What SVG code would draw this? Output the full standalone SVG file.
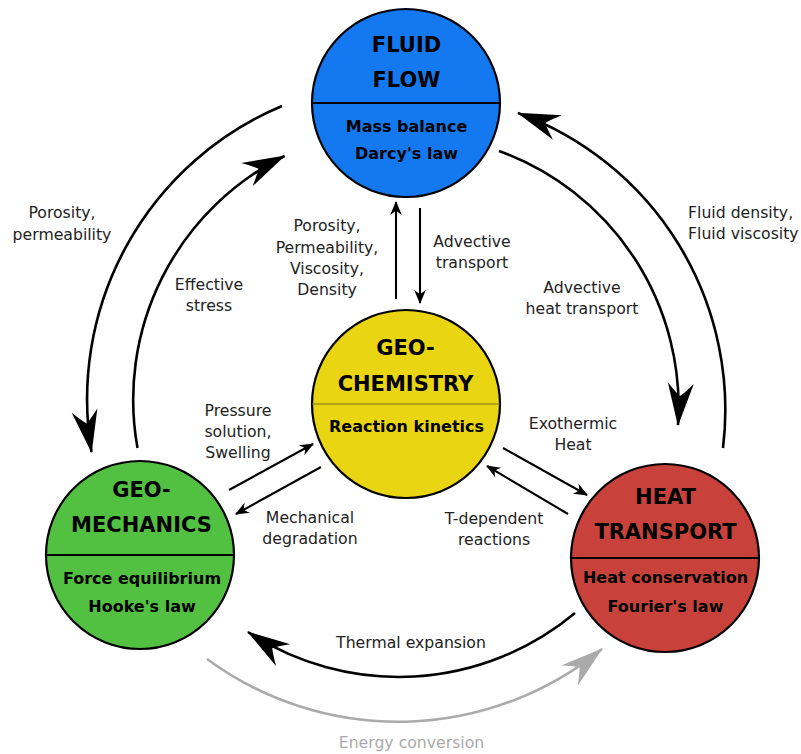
<svg xmlns="http://www.w3.org/2000/svg" width="801" height="754" viewBox="0 0 801 754">
<style>
.node circle{stroke:#000;stroke-width:2.2}
.div{stroke:#000;stroke-width:2}
.t{font-family:"DejaVu Sans",Verdana,sans-serif;font-weight:bold;fill:#000;text-anchor:middle}
.t1{font-size:21px}
.t2{font-size:16px}
.lbl{font-family:"DejaVu Sans",Verdana,sans-serif;font-size:15.7px;fill:#222;text-anchor:middle}
.arc{fill:none;stroke:#000;stroke-width:2.6;marker-end:url(#big)}
.arcg{fill:none;stroke:#aaa;stroke-width:2.6;marker-end:url(#bigg)}
.sa{fill:none;stroke:#000;stroke-width:2.1;marker-end:url(#small)}
</style>
<defs>
<marker id="big" markerUnits="userSpaceOnUse" markerWidth="60" markerHeight="40" viewBox="-50 -20 60 40" refX="0" refY="0" orient="auto" overflow="visible">
<path d="M1,0 L-42,-13 Q-32,-4 -29,0 Q-32,4 -42,13 Z" fill="#000"/>
</marker>
<marker id="bigg" markerUnits="userSpaceOnUse" markerWidth="60" markerHeight="40" viewBox="-50 -20 60 40" refX="0" refY="0" orient="auto" overflow="visible">
<path d="M1,0 L-42,-13 Q-32,-4 -29,0 Q-32,4 -42,13 Z" fill="#aaa"/>
</marker>
<marker id="small" markerUnits="userSpaceOnUse" markerWidth="20" markerHeight="16" viewBox="-16 -8 20 16" refX="0" refY="0" orient="auto" overflow="visible">
<path d="M1,0 L-13,-5.8 Q-9.5,-1.5 -9,0 Q-9.5,1.5 -13,5.8 Z" fill="#000"/>
</marker>
</defs>

<g id="connectors">
<path class="arc" d="M282,106 A318,318 0 0 0 91.5,452"/>
<path class="arc" d="M137.5,448 A272,272 0 0 1 284.5,156"/>
<path class="arc" d="M499,151 A272,272 0 0 1 678,425"/>
<path class="arc" d="M723,448 A316,316 0 0 0 518,113"/>
<path class="arc" d="M575,613 A275,275 0 0 1 248,632"/>
<path class="arcg" d="M207,659 A322,322 0 0 0 602,649"/>
<path class="sa" d="M396,299 L396,202"/>
<path class="sa" d="M420,208 L420,303"/>
<path class="sa" d="M229,490 L313,444"/>
<path class="sa" d="M321,467 L236,514"/>
<path class="sa" d="M503,448 L587,495"/>
<path class="sa" d="M568,514 L487,466"/>
</g>

<g id="fluid-flow" class="node">
<circle cx="406" cy="103" r="94" fill="#1479F0"/>
<line class="div" x1="312" y1="103" x2="500" y2="103"/>
<text class="t t1" x="406.5" y="52">FLUID</text>
<text class="t t1" x="406.5" y="87">FLOW</text>
<text class="t t2" x="406.5" y="132">Mass balance</text>
<text class="t t2" x="406.5" y="159">Darcy's law</text>
</g>

<g id="geo-chemistry" class="node">
<circle cx="406" cy="404" r="94" fill="#EAD512"/>
<line x1="312" y1="404" x2="500" y2="404" stroke="#7a7010" stroke-width="1.2"/>
<text class="t t1" x="405.5" y="355">GEO-</text>
<text class="t t1" x="405.5" y="391">CHEMISTRY</text>
<text class="t t2" x="406.5" y="432">Reaction kinetics</text>
</g>

<g id="geo-mechanics" class="node">
<circle cx="140" cy="555" r="94" fill="#52C142"/>
<line class="div" x1="46" y1="555" x2="234" y2="555"/>
<text class="t t1" x="141.5" y="497">GEO-</text>
<text class="t t1" x="141.5" y="532">MECHANICS</text>
<text class="t t2" x="142" y="584">Force equilibrium</text>
<text class="t t2" x="142" y="612">Hooke's law</text>
</g>

<g id="heat-transport" class="node">
<circle cx="665" cy="558" r="94" fill="#C8423B"/>
<line class="div" x1="571" y1="558" x2="759" y2="558"/>
<text class="t t1" x="665.5" y="504">HEAT</text>
<text class="t t1" x="665.5" y="539">TRANSPORT</text>
<text class="t t2" x="665.5" y="583">Heat conservation</text>
<text class="t t2" x="665.5" y="612">Fourier's law</text>
</g>

<g id="labels">
<text class="lbl" x="62" y="218">Porosity,</text>
<text class="lbl" x="62" y="240">permeability</text>
<text class="lbl" x="209" y="290">Effective</text>
<text class="lbl" x="209" y="311">stress</text>
<text class="lbl" x="327" y="231">Porosity,</text>
<text class="lbl" x="327" y="253">Permeability,</text>
<text class="lbl" x="327" y="274">Viscosity,</text>
<text class="lbl" x="327" y="295">Density</text>
<text class="lbl" x="472" y="247">Advective</text>
<text class="lbl" x="472" y="268">transport</text>
<text class="lbl" x="582" y="293">Advective</text>
<text class="lbl" x="582" y="314">heat transport</text>
<text class="lbl" x="688" y="218" style="text-anchor:start">Fluid density,</text>
<text class="lbl" x="688" y="239" style="text-anchor:start">Fluid viscosity</text>
<text class="lbl" x="238" y="416">Pressure</text>
<text class="lbl" x="238" y="437">solution,</text>
<text class="lbl" x="238" y="458">Swelling</text>
<text class="lbl" x="310" y="523">Mechanical</text>
<text class="lbl" x="310" y="544">degradation</text>
<text class="lbl" x="573" y="429">Exothermic</text>
<text class="lbl" x="573" y="450">Heat</text>
<text class="lbl" x="494" y="524">T-dependent</text>
<text class="lbl" x="494" y="545">reactions</text>
<text class="lbl" x="411" y="648">Thermal expansion</text>
<text class="lbl" x="411.5" y="748" style="fill:#aaa">Energy conversion</text>
</g>
</svg>
